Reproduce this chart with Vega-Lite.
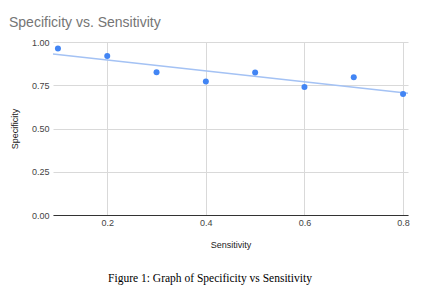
{
  "$schema": "https://vega.github.io/schema/vega-lite/v6.json",
  "padding": {"left": 9, "top": 16, "right": 0, "bottom": 0},
  "background": "white",
  "config": {"view": {"stroke": null}},
  "title": {"text": "Figure 1: Graph of Specificity vs Sensitivity", "orient": "bottom", "anchor": "middle", "font": "Liberation Serif", "fontSize": 11.5, "fontWeight": "normal", "color": "#000000", "offset": 24},
  "vconcat": [
    {
      "width": 355,
      "height": 173,
      "title": {"text": "Specificity vs. Sensitivity", "anchor": "start", "frame": "group", "dx": -44, "offset": 8, "font": "Liberation Sans", "fontSize": 14, "fontWeight": "normal", "color": "#757575"},
      "data": {"values": [
        {"sensitivity": 0.1, "specificity": 0.962},
        {"sensitivity": 0.2, "specificity": 0.919},
        {"sensitivity": 0.3, "specificity": 0.825},
        {"sensitivity": 0.4, "specificity": 0.771},
        {"sensitivity": 0.5, "specificity": 0.823},
        {"sensitivity": 0.6, "specificity": 0.740},
        {"sensitivity": 0.7, "specificity": 0.796},
        {"sensitivity": 0.8, "specificity": 0.700}
      ]},
      "layer": [
        {
          "transform": [{"regression": "specificity", "on": "sensitivity", "extent": [0.09, 0.81]}],
          "mark": {"type": "line", "color": "#a4c2f4", "strokeWidth": 1.5},
          "encoding": {
            "x": {"field": "sensitivity", "type": "quantitative"},
            "y": {"field": "specificity", "type": "quantitative"}
          }
        },
        {
          "mark": {"type": "circle", "color": "#4285f4", "opacity": 1, "size": 36},
          "encoding": {
            "x": {"field": "sensitivity", "type": "quantitative", "scale": {"domain": [0.09, 0.81], "nice": false, "zero": false},
              "axis": {"title": "Sensitivity", "values": [0.2, 0.4, 0.6, 0.8], "format": ".1f", "grid": true, "gridColor": "#d9d9d9", "ticks": false, "domainColor": "#333333", "labelFont": "Liberation Sans", "labelFontSize": 9, "labelColor": "#444444", "labelPadding": 3, "titleFont": "Liberation Sans", "titleFontSize": 9, "titleFontWeight": "normal", "titleColor": "#222222", "titlePadding": 13}},
            "y": {"field": "specificity", "type": "quantitative", "scale": {"domain": [0, 1], "nice": false},
              "axis": {"title": "Specificity", "values": [0, 0.25, 0.5, 0.75, 1], "format": ".2f", "grid": true, "gridColor": "#d9d9d9", "domain": false, "ticks": false, "labelFont": "Liberation Sans", "labelFontSize": 9, "labelColor": "#444444", "labelPadding": 4, "titleFont": "Liberation Sans", "titleFontSize": 9, "titleFontWeight": "normal", "titleColor": "#222222", "titlePadding": 12}}
          }
        }
      ]
    }
  ]
}
